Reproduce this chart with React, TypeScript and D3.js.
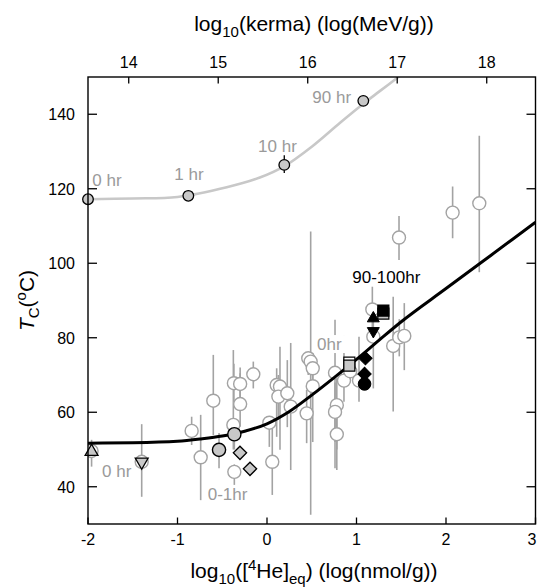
import React from 'react';
import * as d3 from 'd3';

const W = 538;
const H = 588;
const FONT = "'Liberation Sans', Arial, Helvetica, sans-serif";

// axes
const heDomain = [-2, 3];
const kermaOffset = 15.545; // top axis = log10(kerma) aligned with bottom axis
const tDomain = [30, 150];
const heTicks = [-2, -1, 0, 1, 2, 3];
const kermaTicks = [14, 15, 16, 17, 18];
const tTicks = [40, 60, 80, 100, 120, 140];

// open circles with error bars (x: log10 He, y: Tc)
const openHe = [-1.96, -1.4, -0.842, -0.741, -0.6, -0.376, -0.365, -0.37, -0.3, -0.3, -0.153, 0.059, 0.026, 0.108, 0.145, 0.127, 0.227, 0.265, 0.443, 0.461, 0.488, 0.511, 0.511, 0.76, 0.78, 0.76, 0.78, 0.86, 0.93, 1.028, 1.177, 1.188, 1.41, 1.478, 1.534, 1.475, 2.074, 2.372];
const openT = [49.6, 46.7, 55.0, 47.9, 63.1, 56.6, 44.0, 67.8, 67.6, 62.2, 70.2, 46.7, 57.2, 67.3, 66.9, 64.2, 65.1, 61.5, 59.7, 74.5, 73.6, 71.8, 67.0, 70.6, 61.9, 60.1, 54.1, 68.5, 71.0, 68.5, 87.6, 80.3, 77.8, 80.1, 80.5, 106.9, 113.6, 116.1];
const openLo = [45.4, 37.3, 51.2, 36.4, 53.9, 50.0, 40.5, 62.0, 63.0, 56.1, 66.4, 37.8, 50.7, 53.4, 49.9, 58.0, 56.0, 44.5, 51.7, 70.0, 32.5, 66.0, 52.0, 52.0, 50.0, 45.0, 44.5, 62.8, 68.0, 62.8, 80.0, 66.4, 60.2, 75.0, 71.3, 100.9, 106.7, 97.6];
const openHi = [52.6, 56.8, 58.8, 59.3, 75.4, 76.7, 46.0, 73.0, 72.0, 70.5, 73.6, 57.9, 58.8, 71.8, 77.6, 70.0, 74.0, 78.6, 66.0, 76.0, 108.5, 76.0, 75.8, 84.8, 70.0, 68.0, 62.0, 80.7, 74.0, 80.3, 93.7, 85.0, 91.0, 85.0, 89.3, 112.7, 120.6, 134.2];

// black fit curve
const fitHe = [-2, -1.5, -1, -0.75, -0.5, -0.25, 0, 0.25, 0.5, 0.75, 1, 1.25, 1.5, 2, 2.5, 3];
const fitT = [51.7, 51.8, 52.2, 52.8, 53.6, 54.9, 56.9, 60.2, 64.6, 69.3, 74.2, 79.3, 84.3, 93.2, 102.1, 111];

// grey annealing curve (x: log10 kerma)
const annealCurveK = [13.545, 14.045, 14.545, 15.095, 15.465, 15.735, 16.045, 16.365, 16.625, 16.805, 17.045];
const annealCurveT = [117.2, 117.4, 117.8, 120.4, 123.0, 126.0, 131.3, 137.8, 142.9, 146.2, 150.6];
const annealK = [13.545, 14.666, 15.738, 16.621];
const annealT = [117.2, 118.1, 126.4, 143.6];
const annealLabels = ['0 hr', '1 hr', '10 hr', '90 hr'];
const annealLabelHe = [-1.788, -0.872, 0.117, 0.723];
const annealLabelT = [120.8, 122.35, 129.8, 142.9];

// special markers
const greyTriUp = [[-1.96, 49.4]];
const greyTriDown = [[-1.4, 46.7]];
const greyCircles = [[-0.536, 49.9], [-0.365, 54.1]];
const greyCircleLo = [45.0, 50.0];
const greyCircleHi = [54.4, 57.0];
const greyDiamonds = [[-0.302, 49.1], [-0.19, 44.8]];
const greySquares = [[0.92, 72.5]];
const blackSquares = [[1.3, 87.3]];
const blackTriUp = [[1.188, 85.2]];
const blackTriDown = [[1.188, 81.8]];
const blackDiamonds = [[1.1, 74.5], [1.09, 70.3]];
const blackCircles = [[1.09, 67.6]];

// annotations
const greyNotes = ['0 hr', '0-1hr', '0hr'];
const greyNoteHe = [-1.679, -0.441, 0.696];
const greyNoteT = [42.75, 36.44, 76.7];
const blackNote = '90-100hr';
const blackNoteHe = 1.333;
const blackNoteT = 94.6;

export default function App() {
  const x = d3.scaleLinear().domain(heDomain).range([88, 535.5]);
  const xTop = d3
    .scaleLinear()
    .domain([heDomain[0] + kermaOffset, heDomain[1] + kermaOffset])
    .range([88, 535.5]);
  const y = d3.scaleLinear().domain(tDomain).range([524, 77]);
  const [x0, x1] = x.range();
  const [yb, yt] = y.range();

  const line = d3
    .line<number[]>()
    .x((d) => x(d[0]))
    .y((d) => y(d[1]))
    .curve(d3.curveMonotoneX);
  const lineTop = d3
    .line<number[]>()
    .x((d) => xTop(d[0]))
    .y((d) => y(d[1]))
    .curve(d3.curveCatmullRom.alpha(0.5));

  const fitPath = line(fitHe.map((h, i) => [h, fitT[i]])) || '';
  const annealPath = lineTop(annealCurveK.map((k, i) => [k, annealCurveT[i]])) || '';

  const triPath = d3.symbol().type(d3.symbolTriangle).size(72)() || '';
  const triSmall = d3.symbol().type(d3.symbolTriangle).size(62)() || '';
  const sqPath = d3.symbol().type(d3.symbolSquare).size(121)() || '';
  const diaPath = d3.symbol().type(d3.symbolSquare).size(88)() || '';

  const grey = '#a3a3a3';
  const fillGrey = '#c8c8c8';
  const textGrey = '#9a9a9a';

  return (
    <svg
      width={W}
      height={H}
      viewBox={`0 0 ${W} ${H}`}
      style={{ position: 'absolute', left: 0, top: 0, display: 'block', background: '#fff' }}
      fontFamily={FONT}
    >
      <defs>
        <clipPath id="plotClip">
          <rect x={x0} y={yt} width={x1 - x0} height={yb - yt} />
        </clipPath>
      </defs>
      <rect x={0} y={0} width={W} height={H} fill="#fff" />

      <g clipPath="url(#plotClip)">
        {/* error bars */}
        {openHe.map((h, i) => (
          <line
            key={'e' + i}
            x1={x(h)}
            x2={x(h)}
            y1={y(openLo[i])}
            y2={y(openHi[i])}
            stroke={grey}
            strokeWidth={1.6}
          />
        ))}
        {greyCircles.map((d, i) => (
          <line
            key={'ge' + i}
            x1={x(d[0])}
            x2={x(d[0])}
            y1={y(greyCircleLo[i])}
            y2={y(greyCircleHi[i])}
            stroke={grey}
            strokeWidth={1.6}
          />
        ))}
        {/* open circles */}
        {openHe.map((h, i) => (
          <circle
            key={'c' + i}
            cx={x(h)}
            cy={y(openT[i])}
            r={6.5}
            fill="#fff"
            stroke={grey}
            strokeWidth={1.4}
          />
        ))}
      </g>

      {/* grey labels */}
      {greyNotes.map((t, i) => (
        <g key={'gn' + i}>
          {t === '0hr' ? (
            <rect
              x={x(greyNoteHe[i]) - 16}
              y={y(greyNoteT[i]) - 15}
              width={32}
              height={18}
              fill="#fff"
            />
          ) : null}
          <text
            x={x(greyNoteHe[i])}
            y={y(greyNoteT[i])}
            textAnchor="middle"
            fontSize={17}
            fill={textGrey}
          >
            {t}
          </text>
        </g>
      ))}

      <g clipPath="url(#plotClip)">
        <path d={fitPath} fill="none" stroke="#000" strokeWidth={3} />
        <path d={annealPath} fill="none" stroke="#c8c8c8" strokeWidth={2.6} />
      </g>

      {/* grey annealing markers */}
      <line
        x1={xTop(annealK[2])}
        x2={xTop(annealK[2])}
        y1={y(124.2)}
        y2={y(129)}
        stroke="#000"
        strokeWidth={1.3}
      />
      {annealK.map((k, i) => (
        <circle
          key={'a' + i}
          cx={xTop(k)}
          cy={y(annealT[i])}
          r={5.3}
          fill={fillGrey}
          stroke="#000"
          strokeWidth={1.3}
        />
      ))}
      {annealLabels.map((t, i) => (
        <text
          key={'al' + i}
          x={x(annealLabelHe[i])}
          y={y(annealLabelT[i])}
          textAnchor="middle"
          fontSize={17}
          fill={textGrey}
        >
          {t}
        </text>
      ))}

      {/* special markers */}
      {greyTriUp.map((d, i) => (
        <path key={'tu' + i} d={triPath} transform={`translate(${x(d[0])},${y(d[1])})`} fill={fillGrey} stroke="#000" strokeWidth={1.3} />
      ))}
      {greyTriDown.map((d, i) => (
        <path key={'td' + i} d={triPath} transform={`translate(${x(d[0])},${y(d[1])}) rotate(180)`} fill={fillGrey} stroke="#000" strokeWidth={1.3} />
      ))}
      {greyCircles.map((d, i) => (
        <circle key={'gc' + i} cx={x(d[0])} cy={y(d[1])} r={6.6} fill={fillGrey} stroke="#000" strokeWidth={1.4} />
      ))}
      {greyDiamonds.map((d, i) => (
        <path key={'gd' + i} d={diaPath} transform={`translate(${x(d[0])},${y(d[1])}) rotate(45)`} fill={fillGrey} stroke="#000" strokeWidth={1.3} />
      ))}
      {greySquares.map((d, i) => (
        <g key={'gs' + i}>
          <path d={sqPath} transform={`translate(${x(d[0])},${y(d[1]) - 3})`} fill="#fff" stroke="#000" strokeWidth={1.2} />
          <path d={sqPath} transform={`translate(${x(d[0])},${y(d[1])})`} fill={fillGrey} stroke="#000" strokeWidth={1.2} />
        </g>
      ))}
      {blackSquares.map((d, i) => (
        <g key={'bs' + i}>
          <path d={sqPath} transform={`translate(${x(d[0])},${y(d[1]) + 3})`} fill={fillGrey} stroke="#000" strokeWidth={1.2} />
          <path d={sqPath} transform={`translate(${x(d[0])},${y(d[1])})`} fill="#000" stroke="#000" strokeWidth={1.2} />
        </g>
      ))}
      {blackTriUp.map((d, i) => (
        <path key={'btu' + i} d={triSmall} transform={`translate(${x(d[0])},${y(d[1])})`} fill="#000" stroke="#000" strokeWidth={1} />
      ))}
      {blackTriDown.map((d, i) => (
        <path key={'btd' + i} d={triSmall} transform={`translate(${x(d[0])},${y(d[1])}) rotate(180)`} fill="#000" stroke="#000" strokeWidth={1} />
      ))}
      {blackDiamonds.map((d, i) => (
        <path key={'bd' + i} d={diaPath} transform={`translate(${x(d[0])},${y(d[1])}) rotate(45)`} fill="#000" stroke="#000" strokeWidth={1} />
      ))}
      {blackCircles.map((d, i) => (
        <circle key={'bc' + i} cx={x(d[0])} cy={y(d[1])} r={6.3} fill="#000" stroke="#000" strokeWidth={1} />
      ))}

      <rect x={x(blackNoteHe) - 38} y={y(blackNoteT) - 15} width={76} height={17} fill="#fff" />
      <text x={x(blackNoteHe)} y={y(blackNoteT)} textAnchor="middle" fontSize={17} fill="#000">
        {blackNote}
      </text>

      {/* frame */}
      <rect x={x0} y={yt} width={x1 - x0} height={yb - yt} fill="none" stroke="#000" strokeWidth={1.4} />

      {/* bottom axis */}
      {heTicks.map((t) => (
        <g key={'bt' + t}>
          <line x1={x(t)} x2={x(t)} y1={yb} y2={yb - 6.5} stroke="#000" strokeWidth={1.3} />
          <text x={Math.min(x(t), W - 6)} y={545} textAnchor="middle" fontSize={16} fill="#000">
            {t}
          </text>
        </g>
      ))}
      {/* top axis */}
      {kermaTicks.map((t) => (
        <g key={'tt' + t}>
          <line x1={xTop(t)} x2={xTop(t)} y1={yt} y2={yt + 6.5} stroke="#000" strokeWidth={1.3} />
          <text x={xTop(t)} y={68} textAnchor="middle" fontSize={16} fill="#000">
            {t}
          </text>
        </g>
      ))}
      {/* left & right axes */}
      {tTicks.map((t) => (
        <g key={'yt' + t}>
          <line x1={x0} x2={x0 + 9} y1={y(t)} y2={y(t)} stroke="#000" strokeWidth={1.3} />
          <line x1={x1} x2={x1 - 9} y1={y(t)} y2={y(t)} stroke="#000" strokeWidth={1.3} />
          <text x={75} y={y(t) + 5.8} textAnchor="end" fontSize={16} fill="#000">
            {t}
          </text>
        </g>
      ))}

      {/* axis titles */}
      <text x={314} y={578} textAnchor="middle" fontSize={21} fill="#000">
        log
        <tspan fontSize={15} dy={6}>10</tspan>
        <tspan dy={-6}>([</tspan>
        <tspan fontSize={15} dy={-8}>4</tspan>
        <tspan dy={8}>He]</tspan>
        <tspan fontSize={15} dy={6}>eq</tspan>
        <tspan dy={-6}>) (log(nmol/g))</tspan>
      </text>
      <text x={314} y={31} textAnchor="middle" fontSize={21} fill="#000">
        log
        <tspan fontSize={15} dy={6}>10</tspan>
        <tspan dy={-6}>(kerma) (log(MeV/g))</tspan>
      </text>
      <text transform="translate(33.5,300.5) rotate(-90)" textAnchor="middle" fontSize={21} fill="#000">
        <tspan fontStyle="italic">T</tspan>
        <tspan fontSize={15} dy={5}>C</tspan>
        <tspan dy={-5}>(</tspan>
        <tspan fontSize={15} dy={-8}>o</tspan>
        <tspan dy={8}>C)</tspan>
      </text>
    </svg>
  );
}
